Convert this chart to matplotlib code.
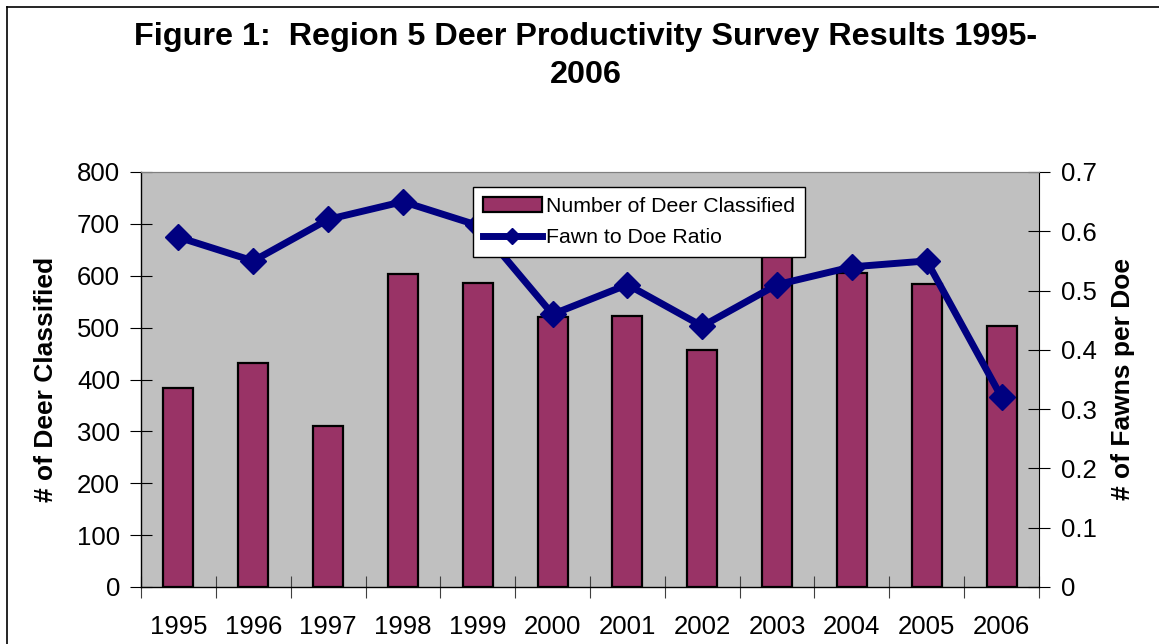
import matplotlib
matplotlib.use("Agg")
import matplotlib.pyplot as plt
from matplotlib.lines import Line2D
import numpy as np

years = ["1995", "1996", "1997", "1998", "1999", "2000", "2001", "2002",
         "2003", "2004", "2005", "2006"]
deer_classified = [384, 431, 310, 603, 586, 520, 522, 456, 680, 605, 584, 503]
fawn_doe_ratio = [0.59, 0.55, 0.62, 0.65, 0.61, 0.46, 0.51, 0.44, 0.51, 0.54, 0.55, 0.32]

plt.rcParams['font.family'] = ['Liberation Sans', 'DejaVu Sans']

W, H = 1159, 644
fig = plt.figure(figsize=(W / 100, H / 100), dpi=100)
fig.patch.set_facecolor('white')

# outer frame (left and top edges visible)
fig.add_artist(Line2D([7 / W, 7 / W], [0, 1 - 7 / H], color='black', lw=1.2, transform=fig.transFigure))
fig.add_artist(Line2D([7 / W, 1], [1 - 7 / H, 1 - 7 / H], color='black', lw=1.2, transform=fig.transFigure))

left, right, top, bottom = 141, 1039, 172, 587
ax = fig.add_axes([left / W, 1 - bottom / H, (right - left) / W, (bottom - top) / H])
ax.set_facecolor('#C0C0C0')

x = np.arange(len(years))
ax.bar(x, deer_classified, width=0.40, color='#993366', edgecolor='black', linewidth=1.6,
       label='Number of Deer Classified', zorder=2)
ax.set_xlim(-0.5, len(years) - 0.5)
ax.set_ylim(0, 800)
ax.set_yticks(np.arange(0, 801, 100))
ax.set_xticks(x)
ax.set_xticklabels(years)
ax.set_xticks(np.arange(-0.5, len(years), 1.0), minor=True)
ax.tick_params(axis='x', which='major', length=0, pad=20, labelsize=18.5)
ax.tick_params(axis='x', which='minor', length=16, direction='inout', width=0.8, color='#404040')
ax.tick_params(axis='y', which='major', length=16, direction='inout', width=0.8, labelsize=18.5, pad=7)
for s in ['left', 'bottom']:
    ax.spines[s].set_color('black')
    ax.spines[s].set_linewidth(1.0)
ax.spines['top'].set_color('#808080')
ax.spines['right'].set_visible(False)
ax.set_ylabel('# of Deer Classified', fontsize=19, fontweight='bold', labelpad=14)

ax2 = ax.twinx()
ax2.plot(x, fawn_doe_ratio, color='#000080', linewidth=5, marker='D', markersize=13,
         label='Fawn to Doe Ratio', zorder=3)
ax2.set_ylim(0, 0.7)
ax2.set_yticks(np.round(np.arange(0, 0.71, 0.1), 1))
ax2.set_yticklabels(['0', '0.1', '0.2', '0.3', '0.4', '0.5', '0.6', '0.7'])
ax2.tick_params(axis='y', which='major', length=16, direction='inout', width=0.8, labelsize=18.5, pad=8)
ax2.spines['right'].set_color('black')
ax2.spines['top'].set_color('#808080')
ax2.spines['left'].set_visible(False)
ax2.spines['bottom'].set_visible(False)
ax2.set_ylabel('# of Fawns per Doe', fontsize=19, fontweight='bold', labelpad=10)

h1, l1 = ax.get_legend_handles_labels()
h2, l2 = ax2.get_legend_handles_labels()
leg = ax2.legend(h1 + h2, l1 + l2, loc='upper left',
                 bbox_to_anchor=((473 - left) / (right - left), 1 - (187 - top) / (bottom - top)),
                 fontsize=15.3, frameon=True, fancybox=False, shadow=False, framealpha=1.0,
                 borderpad=0.45, labelspacing=0.6, handlelength=2.8, handletextpad=0.2,
                 borderaxespad=0.0, markerscale=0.6)
leg.get_frame().set_edgecolor('black')
leg.get_frame().set_facecolor('white')
leg.get_frame().set_linewidth(1.0)
leg.set_zorder(10)

fig.text(586 / W, 1 - 37 / H, 'Figure 1:  Region 5 Deer Productivity Survey Results 1995-',
         ha='center', va='center', fontsize=23.3, fontweight='bold')
fig.text(586 / W, 1 - 75 / H, '2006', ha='center', va='center', fontsize=23.3, fontweight='bold')

fig.savefig('out.png', dpi=100)
